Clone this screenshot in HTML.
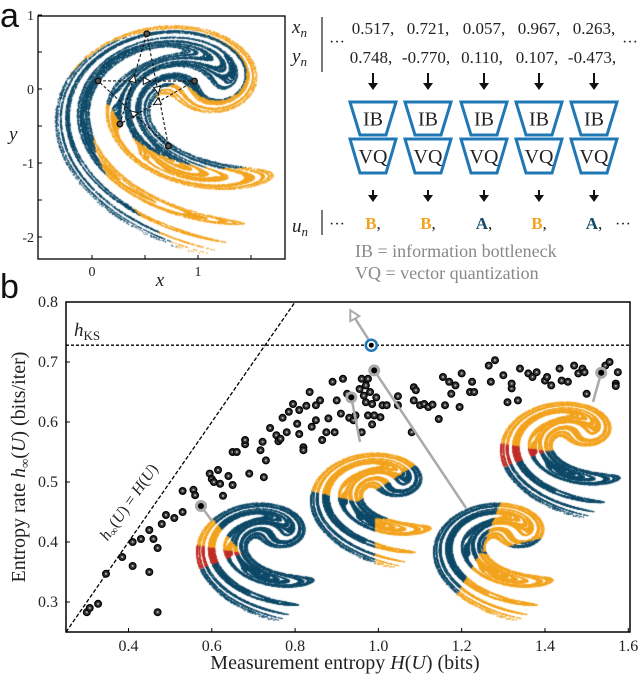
<!DOCTYPE html>
<html><head><meta charset="utf-8">
<style>
html,body{margin:0;padding:0;background:#fff;}
#wrap{position:relative;width:640px;height:680px;overflow:hidden;font-family:"Liberation Serif",serif;}
svg,canvas{position:absolute;left:0;top:0;}
</style></head>
<body>
<div id="wrap">
<svg id="s" width="640" height="680"></svg>
<canvas id="c" width="640" height="680"></canvas>
<svg id="s2" width="640" height="680"></svg>
</div>
<script>
// ---------- data ----------
const measEntropy = [0.300,0.307,0.327,0.346,0.385,0.410,0.410,0.430,0.450,0.450,0.460,0.470,0.470,0.480,0.490,0.510,0.530,0.530,0.556,0.560,0.595,0.600,0.605,0.615,0.620,0.627,0.640,0.650,0.660,0.650,0.680,0.680,0.690,0.717,0.722,0.730,0.725,0.740,0.755,0.760,0.765,0.770,0.780,0.785,0.795,0.805,0.810,0.810,0.820,0.820,0.827,0.835,0.840,0.850,0.850,0.860,0.865,0.875,0.880,0.890,0.895,0.900,0.910,0.915,0.925,0.930,0.940,0.945,0.960,0.955,0.960,0.965,0.970,0.970,0.975,0.980,0.975,0.985,0.990,0.985,0.995,1.005,1.010,1.020,1.047,1.047,1.080,1.085,1.085,1.090,1.100,1.110,1.120,1.130,1.145,1.155,1.160,1.170,1.175,1.185,1.195,1.200,1.220,1.225,1.230,1.265,1.270,1.280,1.300,1.310,1.320,1.320,1.335,1.340,1.360,1.370,1.380,1.400,1.405,1.415,1.435,1.440,1.455,1.470,1.480,1.490,1.495,1.500,1.545,1.555,1.570,1.575,1.570];
const entropyRate = [0.283,0.290,0.297,0.347,0.375,0.360,0.400,0.405,0.420,0.350,0.405,0.390,0.283,0.430,0.445,0.440,0.450,0.485,0.487,0.478,0.514,0.505,0.500,0.520,0.497,0.477,0.510,0.550,0.550,0.495,0.563,0.570,0.514,0.553,0.567,0.536,0.508,0.590,0.578,0.568,0.572,0.607,0.583,0.617,0.630,0.597,0.580,0.620,0.558,0.553,0.627,0.650,0.592,0.603,0.628,0.636,0.570,0.583,0.606,0.667,0.583,0.636,0.614,0.672,0.647,0.607,0.603,0.611,0.583,0.655,0.672,0.644,0.661,0.633,0.672,0.650,0.611,0.630,0.611,0.596,0.641,0.608,0.628,0.628,0.628,0.643,0.583,0.636,0.658,0.653,0.628,0.630,0.625,0.629,0.605,0.675,0.628,0.667,0.647,0.661,0.625,0.681,0.650,0.667,0.650,0.694,0.667,0.703,0.678,0.633,0.656,0.664,0.636,0.689,0.681,0.675,0.683,0.669,0.675,0.661,0.689,0.669,0.667,0.694,0.681,0.689,0.683,0.647,0.694,0.700,0.664,0.683,0.660];
const highlightH = [0.574,0.935,0.990,1.535];
const highlightR = [0.460,0.641,0.686,0.682];
const optimalH = [0.983];
const optimalR = [0.728];
const hKS = 0.728;
const xTicks = [0.4,0.6,0.8,1.0,1.2,1.4,1.6];
const xTickLabels = ["0.4","0.6","0.8","1.0","1.2","1.4","1.6"];
const yTicks = [0.3,0.4,0.5,0.6,0.7,0.8];
const yTickLabels = ["0.3","0.4","0.5","0.6","0.7","0.8"];
const trajX = [0.517,0.721,0.057,0.967,0.263];
const trajY = [0.748,-0.770,0.110,0.107,-0.473];
const trajXLabels = ["0.517,","0.721,","0.057,","0.967,","0.263,"];
const trajYLabels = ["0.748,","-0.770,","0.110,","0.107,","-0.473,"];
const symbols = ["B","B","A","B","A"];

const NS="http://www.w3.org/2000/svg";
const S=document.getElementById('s'), S2=document.getElementById('s2');
function mk(parent,tag,attrs,text){const e=document.createElementNS(NS,tag);for(const k in attrs)e.setAttribute(k,attrs[k]);if(text!==undefined)e.textContent=text;parent.appendChild(e);return e;}
const TEAL="#0f4a68", ORANGE="#f2a31f", RED="#c02f28", BLUE="#1f78b4";

// ---------- panel b axes ----------
const bx0=66,bx1=630,by0=302,by1=632;
function sx(v){return bx0+(v-0.25)/0.2*83.3;}
function sy(v){return by1-(v-0.25)*600;}
let e;
e=mk(S,'text',{x:0,y:298,'font-family':'Liberation Sans, sans-serif','font-size':34,fill:'#111'},'b');

e=mk(S,'rect',{x:bx0,y:by0,width:bx1-bx0,height:by1-by0,fill:'none',stroke:'#000','stroke-width':1.5});

xTicks.forEach((t,i)=>{
 e=mk(S,'line',{x1:sx(t),x2:sx(t),y1:by1,y2:by1-4,stroke:'#000'});
 
 e=mk(S,'text',{x:sx(t),y:651,'text-anchor':'middle','font-size':16,fill:'#222'},xTickLabels[i]);
 
});
yTicks.forEach((t,i)=>{
 e=mk(S,'line',{x1:bx0,x2:bx0+4,y1:sy(t),y2:sy(t),stroke:'#000'});
 
 e=mk(S,'text',{x:58,y:sy(t)+5,'text-anchor':'end','font-size':16,fill:'#222'},yTickLabels[i]);
 
});
e=mk(S,'text',{x:345,y:669,'text-anchor':'middle','font-size':20,fill:'#222'});
e.innerHTML='Measurement entropy <tspan font-style="italic">H</tspan>(<tspan font-style="italic">U</tspan>) (bits)';

e=mk(S,'text',{x:0,y:0,'text-anchor':'middle','font-size':20,fill:'#222',transform:'translate(25,467) rotate(-90)'});
e.innerHTML='Entropy rate <tspan font-style="italic">h</tspan><tspan font-size="13" dy="4">∞</tspan><tspan dy="-4">(</tspan><tspan font-style="italic">U</tspan>) (bits/iter)';

e=mk(S,'line',{x1:bx0,x2:bx1,y1:sy(hKS),y2:sy(hKS),stroke:'#000','stroke-width':1.3,'stroke-dasharray':'3,2'});

e=mk(S,'text',{x:74,y:336,'font-size':19,fill:'#222'});
e.innerHTML='<tspan font-style="italic">h</tspan><tspan font-size="13" dy="4">KS</tspan>';

e=mk(S,'line',{x1:sx(0.25),y1:sy(0.25),x2:sx(0.8),y2:sy(0.8),stroke:'#000','stroke-width':1.3,'stroke-dasharray':'4,2'});

e=mk(S,'text',{x:0,y:0,'text-anchor':'middle','font-size':16,fill:'#222',transform:'translate(133,505) rotate(-55.2)'});
e.innerHTML='<tspan font-style="italic">h</tspan><tspan font-size="11" dy="3">∞</tspan><tspan dy="-3">(</tspan><tspan font-style="italic">U</tspan>) = <tspan font-style="italic">H</tspan>(<tspan font-style="italic">U</tspan>)';

measEntropy.forEach((h,i)=>{
 const g=mk(S,'g',{});
 
 mk(g,'circle',{cx:sx(h),cy:sy(entropyRate[i]),r:3.4,fill:'#333',stroke:'#000','stroke-width':1.2});
 mk(g,'circle',{cx:sx(h),cy:sy(entropyRate[i]),r:1.1,fill:'#aaa'});
});

// ---------- panel a ----------
e=mk(S,'text',{x:0,y:27,'font-family':'Liberation Sans, sans-serif','font-size':34,fill:'#111'},'a');

const ax0=38,ax1=285,ay0=16,ay1=259;
function px(x){return 92+106*x;}
function py(y){return 89-74*y;}
e=mk(S,'rect',{x:ax0,y:ay0,width:ax1-ax0,height:ay1-ay0,fill:'none',stroke:'#000','stroke-width':1.3});

[1,0.5,0,-0.5,-1,-1.5,-2].forEach(t=>{mk(S,'line',{x1:ax0,x2:ax0+4,y1:py(t),y2:py(t),stroke:'#000'});});
[0,0.5,1,1.5].forEach(t=>{mk(S,'line',{x1:px(t),x2:px(t),y1:ay1,y2:ay1-4,stroke:'#000'});});
[[1,'1'],[0,'0'],[-1,'-1'],[-2,'-2']].forEach(([t,l])=>{
 e=mk(S,'text',{x:34,y:py(t)+5,'text-anchor':'end','font-size':14,fill:'#222'},l);
 
});
[[0,'0'],[1,'1']].forEach(([t,l])=>{
 e=mk(S,'text',{x:px(t),y:276,'text-anchor':'middle','font-size':14,fill:'#222'},l);
 
});
e=mk(S,'text',{x:160,y:286,'text-anchor':'middle','font-size':19,'font-style':'italic',fill:'#222'},'x');

e=mk(S,'text',{x:9,y:140,'font-size':19,'font-style':'italic',fill:'#222'},'y');


e=mk(S,'text',{x:292,y:33,'font-size':19,fill:'#222'});e.innerHTML='<tspan font-style="italic">x</tspan><tspan font-style="italic" font-size="13" dy="4">n</tspan>';

e=mk(S,'text',{x:292,y:62,'font-size':19,fill:'#222'});e.innerHTML='<tspan font-style="italic">y</tspan><tspan font-style="italic" font-size="13" dy="4">n</tspan>';

mk(S,'line',{x1:322,x2:322,y1:17,y2:72,stroke:'#222','stroke-width':1.2});
mk(S,'line',{x1:322,x2:322,y1:210,y2:235,stroke:'#222','stroke-width':1.2});
[[329,47],[622,47],[329,229],[615,229]].forEach(([x,y])=>{e=mk(S,'text',{x:x,y:y,'font-size':16,fill:'#222'},'···');});
e=mk(S,'text',{x:292,y:232,'font-size':19,fill:'#222'});e.innerHTML='<tspan font-style="italic">u</tspan><tspan font-style="italic" font-size="13" dy="4">n</tspan>';

const cols=[373,428,484,539,594];
cols.forEach((c,i)=>{
 e=mk(S,'text',{x:c,y:34,'text-anchor':'middle','font-size':17,fill:'#222'},trajXLabels[i]);
 
 e=mk(S,'text',{x:c-2,y:63,'text-anchor':'middle','font-size':17,fill:'#222'},trajYLabels[i]);
 
 [[73,90],[190,202]].forEach(([a,b])=>{
  e=mk(S,'g',{});
  mk(e,'line',{x1:c,x2:c,y1:a,y2:b-5,stroke:'#111','stroke-width':2});
  mk(e,'path',{d:`M${c-5},${b-7} L${c+5},${b-7} L${c},${b} Z`,fill:'#111'});
 });
 [['IB',102,135],['VQ',139,173]].forEach(([l,t,b])=>{
  e=mk(S,'path',{d:`M${c-23},${t} L${c+23},${t} L${c+13},${b} L${c-13},${b} Z`,fill:'#fff',stroke:BLUE,'stroke-width':3});
  
  e=mk(S,'text',{x:c,y:(t+b)/2+7,'text-anchor':'middle','font-size':20,fill:'#222'},l);
  
 });
 e=mk(S,'text',{x:c,y:229,'text-anchor':'middle','font-size':17,fill:'#222'});
 e.innerHTML=`<tspan font-weight="bold" fill="${symbols[i]==='B'?ORANGE:TEAL}">${symbols[i]}</tspan>,`;
 
});
e=mk(S,'text',{x:355,y:257,'font-size':18,fill:'#888'},'IB = information bottleneck');

e=mk(S,'text',{x:355,y:279,'font-size':18,fill:'#888'},'VQ = vector quantization');


// ---------- attractors on canvas ----------
const C=document.getElementById('c').getContext('2d');
function ikeda(n,cb){let x=0.1,y=0.1,pxv=0,pyv=0;for(let i=0;i<n+100;i++){const t=0.4-6/(1+x*x+y*y);const nx=1+0.9*(x*Math.cos(t)-y*Math.sin(t));const ny=0.9*(x*Math.sin(t)+y*Math.cos(t));pxv=x;pyv=y;x=nx;y=ny;if(i>=100)cb(x,y,pxv,pyv);}}
C.save();C.beginPath();C.rect(ax0+1,ay0+1,ax1-ax0-2,ay1-ay0-2);C.clip();
ikeda(45000,(x,y,a,b)=>{C.fillStyle=(a>0.95||a<-0.05)?ORANGE:TEAL;C.fillRect(px(x),py(y),1,1);});
C.restore();
function inset(L,T,W,H,colorFn){
 ikeda(30000,(x,y)=>{const X=L+(x+0.35)/2.1*W,Y=T+(0.85-y)/3.15*H;C.fillStyle=colorFn(x,y);C.fillRect(X,Y,1,1);});
}
function ang(x,y){return Math.atan2(y+0.45,x-0.45)*180/Math.PI;}
inset(196,503,120,120,(x,y)=>{const a=ang(x,y);if(a>120&&a<165)return ORANGE;if(a>=165||a<-150)return RED;return TEAL;});
inset(310,453,123,117,(x,y)=>{const a=ang(x,y);if(a>45&&a<160)return ORANGE;if(y<-0.9&&x>0.75)return ORANGE;return TEAL;});
inset(433,503,122,120,(x,y)=>{const a=ang(x,y);if(a<-10&&a>-110)return ORANGE;if(a>20&&a<75&&x>0.5)return ORANGE;return TEAL;});
inset(500,402,122,118,(x,y)=>{const a=ang(x,y);if(a>10&&a<165)return ORANGE;if(a>=165||a<-150)return RED;return TEAL;});

// ---------- overlay ----------
trajX.forEach((x,i)=>{
 const j=(i+1)%trajX.length;
 const x1=px(x),y1=py(trajY[i]),x2=px(trajX[j]),y2=py(trajY[j]);
 e=mk(S2,'line',{x1:x1,y1:y1,x2:x2,y2:y2,stroke:'#111','stroke-width':1.1,'stroke-dasharray':'3,2'});
 
 const mx=(x1+x2)/2,my=(y1+y2)/2,an=Math.atan2(y2-y1,x2-x1)*180/Math.PI;
 e=mk(S2,'path',{d:'M4,0 L-3,-3.5 L-3,3.5 Z',fill:'#fff',stroke:'#111','stroke-width':1,transform:`translate(${mx},${my}) rotate(${an})`});
 
});
trajX.forEach((x,i)=>{
 e=mk(S2,'circle',{cx:px(x),cy:py(trajY[i]),r:2.8,fill:'#555',stroke:'#111','stroke-width':1.3});
 
});
const arrowEnds=[[212,521],[360,442],[466,508],[593,402]];
highlightH.forEach((h,i)=>{
 e=mk(S2,'line',{x1:sx(h),y1:sy(highlightR[i]),x2:arrowEnds[i][0],y2:arrowEnds[i][1],stroke:'#aaa','stroke-width':2.5});
 
 e=mk(S2,'circle',{cx:sx(h),cy:sy(highlightR[i]),r:6,fill:'#aaa'});
 
 mk(S2,'circle',{cx:sx(h),cy:sy(highlightR[i]),r:3,fill:'#000'});
});
optimalH.forEach((h,i)=>{
 const x=sx(h),y=sy(optimalR[i]);
 e=mk(S2,'line',{x1:x-3,y1:y-6,x2:x-17,y2:y-28,stroke:'#aaa','stroke-width':2.5});
 
 mk(S2,'path',{d:`M${x-21},${y-35} L${x-12},${y-29} L${x-21},${y-24} Z`,fill:'#fff',stroke:'#aaa','stroke-width':2});
 e=mk(S2,'circle',{cx:x,cy:y,r:5.5,fill:'#fff',stroke:BLUE,'stroke-width':2.5});
 
 mk(S2,'circle',{cx:x,cy:y,r:2.5,fill:'#000'});
});
</script>
</body></html>
